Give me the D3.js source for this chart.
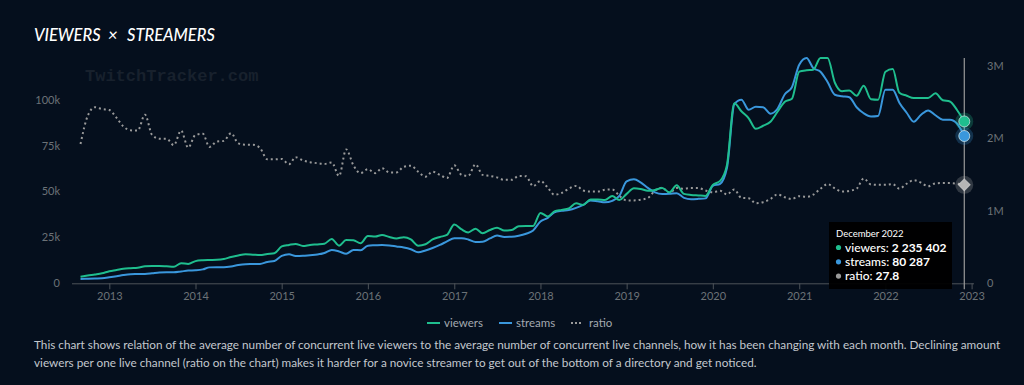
<!DOCTYPE html>
<html><head><meta charset="utf-8">
<script src="https://cdn.jsdelivr.net/npm/d3@7"></script>
<style>
html,body{margin:0;padding:0;background:#050f1d;}
svg{display:block;font-family:Lato,"Open Sans",sans-serif;}
</style></head><body>
<svg id="chart" width="1024" height="385"></svg>
<script>
// ---------- data ----------
const startMonth = "2012-09";            // first monthly point
const yearTicks = [2013,2014,2015,2016,2017,2018,2019,2020,2021,2022,2023];
const leftTicks = [0,25000,50000,75000,100000];
const leftTickLabels = ["0","25k","50k","75k","100k"];
const rightTicks = [0,1000000,2000000,3000000];
const rightTickLabels = ["0","1M","2M","3M"];
const seriesNames = ["viewers","streams","ratio"];

const viewers = [
  91000,108000,122000,138000,167000,184000,201000,209000,214000,235000,239000,239000,
  235000,230000,277000,267000,306000,318000,322000,325000,336000,364000,385000,401000,
  396000,391000,405000,415000,509000,530000,544000,516000,530000,537000,546000,613000,
  520000,599000,595000,553000,654000,645000,668000,640000,620000,636000,606000,520000,
  539000,606000,640000,668000,813000,744000,703000,754000,692000,737000,768000,730000,
  737000,788000,793000,793000,972000,924000,993000,1014000,1035000,1104000,1083000,1159000,
  1159000,1152000,1207000,1152000,1235000,1314000,1304000,1277000,1290000,1318000,1256000,1353000,
  1235000,1221000,1214000,1207000,1360000,1415000,1636000,2487000,2376000,2279000,2134000,2176000,
  2231000,2369000,2508000,2549000,2923000,2943000,2950000,3112000,3112000,2770000,2653000,2664000,
  2591000,2729000,2542000,2535000,2923000,2960000,2632000,2591000,2559000,2559000,2559000,2625000,
  2528000,2512000,2390000,2235402
];
const streams = [
  2350,2460,2620,2780,3280,3880,4530,4970,5020,5080,5460,5950,
  6000,6000,6440,6930,7100,7590,8680,8730,8730,9170,9990,10430,
  10480,10540,11630,12170,14900,15890,14900,15010,15340,15670,16540,18180,
  17360,16100,18180,18070,20530,20740,20910,20640,20090,19540,18560,16920,
  17910,19270,20910,22820,24620,24570,23910,22550,22660,24460,25990,25280,
  25380,25930,27020,28820,33740,35650,38650,39470,39910,41110,42740,45090,
  44660,44110,44930,47660,55570,56660,55030,52020,49570,48640,48750,49130,
  46570,45860,46020,46290,53120,54210,62940,97610,100060,94600,96240,95970,
  92420,95150,103070,106890,119170,122800,117370,115350,109730,102790,101970,101430,
  95970,92690,90950,91220,105520,105520,98430,92970,88050,91880,94220,91600,
  89150,89150,86960,80287
];
const ratio = [
  39.3,47.2,49.7,49.2,48.9,46.7,44.3,43.2,43.1,47.6,41.9,40.8,
  40.8,39.0,43.1,38.3,41.9,42.2,38.5,40.0,40.2,42.4,39.5,39.1,
  39.1,38.2,35.0,35.0,35.1,33.6,35.6,34.7,34.2,33.9,33.7,34.1,
  30.3,37.8,33.3,31.1,32.2,31.1,32.5,31.3,31.3,32.9,33.2,31.5,
  30.1,31.5,30.6,29.7,33.3,30.6,30.3,33.6,30.6,30.3,29.9,29.2,
  29.2,30.3,30.2,27.4,28.9,27.0,25.0,25.5,26.7,27.5,26.2,25.9,
  25.9,26.4,26.5,24.7,23.4,23.4,23.6,24.1,26.2,27.0,25.5,26.9,
  26.7,26.9,26.9,26.2,25.7,26.1,25.1,26.5,24.1,24.0,22.6,22.9,
  23.8,25.1,24.3,23.8,24.6,24.4,25.0,26.7,28.0,26.8,25.9,26.1,
  26.7,29.6,27.9,27.8,27.8,28.0,26.7,28.1,29.1,28.4,27.4,28.2,
  28.3,28.3,28.1,27.8
];

// ---------- layout ----------
const W = 1024, H = 385;
const plotTop = 58, plotBottom = 283.3;
const ratioAxisMax = 63.6;
const colors = {viewers:"#1fbe8e", streams:"#3a97dc", ratio:"#9a9a9a"};

const svg = d3.select("#chart");
svg.append("rect").attr("width",W).attr("height",H).attr("fill","#050f1d");

const parseM = d3.timeParse("%Y-%m");
const months = viewers.map((_,i)=> d3.timeMonth.offset(parseM(startMonth), i));

const x = d3.scaleTime()
  .domain([new Date(2012,7,1), new Date(2023,0,1)])
  .range([73.2, 971.6]);
const yL = d3.scaleLinear().domain([0, d3.max(streams)]).range([plotBottom, plotTop]);
const yR = d3.scaleLinear().domain([0, d3.max(viewers)]).range([plotBottom, plotTop]);
const yRatio = d3.scaleLinear().domain([0, ratioAxisMax]).range([plotBottom, plotTop]);

// title
const title = svg.append("text").attr("x",34).attr("y",41)
  .attr("fill","#ffffff").attr("font-size",16.5).attr("font-style","italic").attr("font-weight",500);
title.append("tspan").text("VIEWERS");
title.append("tspan").attr("x",108).text("×");
title.append("tspan").attr("x",127).text("STREAMERS");

// watermark
svg.append("text").attr("x",85).attr("y",81)
  .attr("fill","#18212d").attr("font-family","'Liberation Mono','DejaVu Sans Mono',monospace")
  .attr("font-weight",700).attr("font-size",17)
  .text("TwitchTracker.com");

// left axis labels
svg.append("g").selectAll("text").data(leftTicks).join("text")
  .attr("x",60).attr("y",d=>yL(d)).attr("dy","0.35em").attr("text-anchor","end")
  .attr("fill","#6c7277").attr("font-size",11)
  .text((d,i)=>leftTickLabels[i]);

// right axis labels
svg.append("g").selectAll("text").data(rightTicks).join("text")
  .attr("x",987).attr("y",d=>yR(d)).attr("dy","0.35em").attr("text-anchor","start")
  .attr("fill","#6c7277").attr("font-size",11)
  .text((d,i)=>rightTickLabels[i]);

// bottom axis
const xAxis = d3.axisBottom(x)
  .tickValues(yearTicks.map(y=>new Date(y,0,1)))
  .tickFormat(d3.timeFormat("%Y"))
  .tickSize(6).tickSizeOuter(0).tickPadding(3);
const gx = svg.append("g").attr("transform",`translate(0,${plotBottom})`).call(xAxis);
gx.select(".domain").attr("stroke","#4d5359").attr("d","M72,0.5H974");
gx.selectAll(".tick line").attr("stroke","#4d5359");
gx.selectAll(".tick text").attr("fill","#6c7277").attr("font-size",11).attr("font-family","Lato");

// lines
svg.append("clipPath").attr("id","plotclip").append("rect")
  .attr("x",70).attr("y",plotTop-2).attr("width",910).attr("height",plotBottom-plotTop+4);
const gLines = svg.append("g").attr("clip-path","url(#plotclip)");

const lineFor = (vals, ys) => d3.line()
  .x((d,i)=>x(months[i])).y(d=>ys(d)).curve(d3.curveMonotoneX)(vals);

gLines.append("path").attr("d",lineFor(ratio,yRatio))
  .attr("fill","none").attr("stroke",colors.ratio).attr("stroke-width",2)
  .attr("stroke-dasharray","2,3");
gLines.append("path").attr("d",lineFor(streams,yL))
  .attr("fill","none").attr("stroke",colors.streams).attr("stroke-width",2);
gLines.append("path").attr("d",lineFor(viewers,yR))
  .attr("fill","none").attr("stroke",colors.viewers).attr("stroke-width",2);

// crosshair at last point
const last = viewers.length-1;
const cx = x(months[last]);
svg.append("line").attr("x1",cx).attr("x2",cx).attr("y1",plotTop).attr("y2",plotBottom+6)
  .attr("stroke","#9a9a9a").attr("stroke-width",1.2);

// markers
const mk = svg.append("g");
[[viewers,yR,colors.viewers,"circle"],[streams,yL,colors.streams,"circle"],[ratio,yRatio,"#b5b5b5","diamond"]]
.forEach(([vals,ys,c,shape])=>{
  const cy = ys(vals[last]);
  mk.append("circle").attr("cx",cx).attr("cy",cy).attr("r",9).attr("fill",c).attr("opacity",0.25);
  if(shape==="circle"){
    mk.append("circle").attr("cx",cx).attr("cy",cy).attr("r",5.5).attr("fill",c)
      .attr("stroke","#d8eef0").attr("stroke-opacity",0.7).attr("stroke-width",1);
  } else {
    mk.append("path").attr("d",d3.symbol(d3.symbolSquare,70)())
      .attr("transform",`translate(${cx},${cy}) rotate(45)`).attr("fill",c)
      .attr("stroke","#e0e0e0").attr("stroke-opacity",0.6).attr("stroke-width",1);
  }
});

// tooltip
const tt = svg.append("g").attr("transform","translate(829,222)");
tt.append("rect").attr("width",123).attr("height",67).attr("fill","#000000").attr("opacity",0.95);
tt.append("text").attr("x",7).attr("y",15).attr("fill","#ffffff").attr("font-size",9.5)
  .text(d3.timeFormat("%B %Y")(months[last]));
const fmtInt = v => d3.format(",")(v).replace(/,/g," ");
const rows = [
  ["viewers", fmtInt(viewers[last]), colors.viewers],
  ["streams", fmtInt(streams[last]), colors.streams],
  ["ratio", d3.format(".1f")(ratio[last]), "#9a9a9a"]
];
rows.forEach((r,i)=>{
  const yy = 25.5 + i*14.3;
  tt.append("circle").attr("cx",9.5).attr("cy",yy).attr("r",2.6).attr("fill",r[2]);
  const t = tt.append("text").attr("x",16).attr("y",yy).attr("dy","0.35em")
    .attr("fill","#ffffff").attr("font-size",12);
  t.append("tspan").attr("font-weight",500).text(r[0]+": ");
  t.append("tspan").attr("font-weight",700).text(r[1]);
});

// legend
const legendX = [427, 499, 571];
const lg = svg.append("g");
seriesNames.forEach((n,i)=>{
  const lx = legendX[i];
  lg.append("line").attr("x1",lx).attr("x2",lx+(n==="ratio"?11:13)).attr("y1",323).attr("y2",323)
    .attr("stroke",colors[n]).attr("stroke-width",2)
    .attr("stroke-dasharray", n==="ratio" ? "2,2" : null);
  lg.append("text").attr("x",lx+(n==="ratio"?18:17)).attr("y",323).attr("dy","0.35em")
    .attr("fill","#a3a9b0").attr("font-size",11.5).text(n);
});

// description
const desc = svg.append("text").attr("fill","#c3c8ce").attr("font-size",11.75);
desc.append("tspan").attr("x",34).attr("y",349)
  .text("This chart shows relation of the average number of concurrent live viewers to the average number of concurrent live channels, how it has been changing with each month. Declining amount");
desc.append("tspan").attr("x",34).attr("y",367)
  .text("viewers per one live channel (ratio on the chart) makes it harder for a novice streamer to get out of the bottom of a directory and get noticed.");
</script>
</body></html>
